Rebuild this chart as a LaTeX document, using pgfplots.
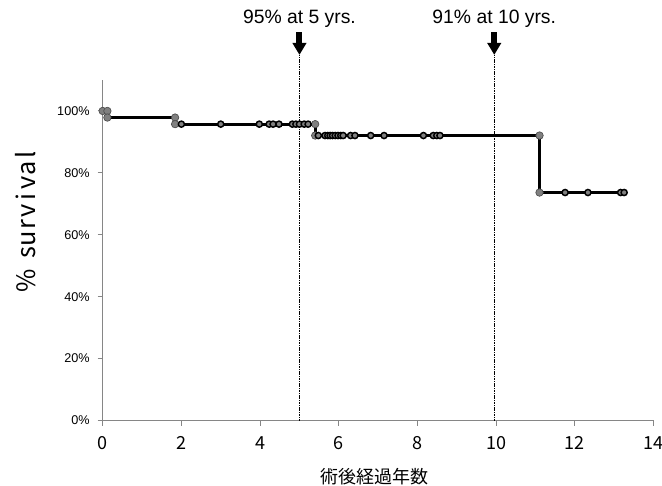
\documentclass[border=0pt]{standalone}
\usepackage{fontspec}
\setmainfont{Liberation Sans}
\newfontfamily\jp{Noto Sans CJK JP}
\usepackage{pgfplots}
\pgfplotsset{compat=1.18}
\usetikzlibrary{arrows.meta}
\definecolor{axgray}{HTML}{868686}
\definecolor{mk}{HTML}{808080}
\newcommand{\mc}[1]{\makebox[10.5pt][c]{#1}}
\begin{document}
\begin{tikzpicture}
\begin{axis}[
  scale only axis,
  width=413.25pt, height=255.4pt,
  xmin=0, xmax=14, ymin=0, ymax=1.1,
  axis lines=left,
  axis line style={-, draw=axgray, line width=0.75pt},
  tick style={draw=axgray, line width=0.75pt},
  tick align=outside,
  major tick length=3.75pt,
  xtick={0,2,...,14},
  ytick={0,0.2,0.4,0.6,0.8,1.0},
  yticklabels={0\%,20\%,40\%,60\%,80\%,100\%},
  /pgf/number format/assume math mode=true,
  xticklabel style={font=\jp\fontsize{13.5pt}{15pt}\selectfont, yshift=-4.5pt},
  yticklabel style={font=\fontsize{9.5pt}{11pt}\selectfont, xshift=-2.5pt},
  clip=false,
  xlabel={\jp\fontsize{13.5pt}{15pt}\selectfont 術後経過年数},
  every axis x label/.style={at={(rel axis cs:0.494,0)}, yshift=-42.4pt, anchor=center},
  ylabel={\jp\fontsize{19pt}{20pt}\selectfont\mc{\%}\mc{}\mc{s}\mc{u}\mc{r}\mc{v}\mc{i}\mc{v}\mc{a}\mc{l}},
  every axis y label/.style={at={(rel axis cs:0,0.596)}, xshift=-57.5pt, anchor=center, rotate=90},
]
% dashed reference lines
\addplot[black, line width=0.8pt, dash pattern=on 1.2pt off 0.6pt] coordinates {(5.0,0) (5.0,1.181)};
\addplot[black, line width=0.8pt, dash pattern=on 1.2pt off 0.6pt] coordinates {(9.95,0) (9.95,1.181)};
% survival step curve
\addplot[black, line width=2.2pt, mark=*, mark size=2.8pt,
  mark options={fill=mk, draw=black!70, line width=0.5pt}] coordinates {
  (0,1.0) (0.12,1.0) (0.12,0.9787) (1.84,0.9787) (1.84,0.9574)
  (5.40,0.9574) (5.40,0.9206) (11.1,0.9206) (11.1,0.7365)
};
\addplot[black, line width=2.2pt] coordinates {(11.1,0.7365) (13.25,0.7365)};
% censored
\addplot[only marks, mark=*, mark size=2.3pt, mark options={fill=mk, draw=black, line width=1.1pt}] coordinates {
  (2.0,0.9574) (3.0,0.9574) (3.98,0.9574) (4.23,0.9574) (4.33,0.9574) (4.48,0.9574)
  (4.82,0.9574) (4.91,0.9574) (5.0,0.9574) (5.12,0.9574) (5.22,0.9574)
  (5.48,0.9206) (5.65,0.9206) (5.72,0.9206) (5.78,0.9206) (5.84,0.9206) (5.91,0.9206)
  (5.98,0.9206) (6.05,0.9206) (6.11,0.9206) (6.30,0.9206) (6.41,0.9206) (6.81,0.9206)
  (7.15,0.9206) (8.15,0.9206) (8.40,0.9206) (8.49,0.9206) (8.57,0.9206)
  (11.75,0.7365) (12.33,0.7365) (13.16,0.7365) (13.25,0.7365)
};
\draw[black, line width=4.5pt, -{Triangle[width=10pt 0, length=9pt 0]}] (axis cs:5.0,1.255) -- (axis cs:5.0,1.181);
\draw[black, line width=4.5pt, -{Triangle[width=10pt 0, length=9pt 0]}] (axis cs:9.95,1.255) -- (axis cs:9.95,1.181);
\node[font=\fontsize{14.5pt}{16pt}\selectfont] at (axis cs:5.0,1.297) {95\% at 5 yrs.};
\node[font=\fontsize{14.5pt}{16pt}\selectfont] at (axis cs:9.95,1.297) {91\% at 10 yrs.};
\end{axis}
\pgfresetboundingbox
\path[use as bounding box] (-77pt,-49.1pt) rectangle (419.5pt,315.4pt);
\end{tikzpicture}
\end{document}
